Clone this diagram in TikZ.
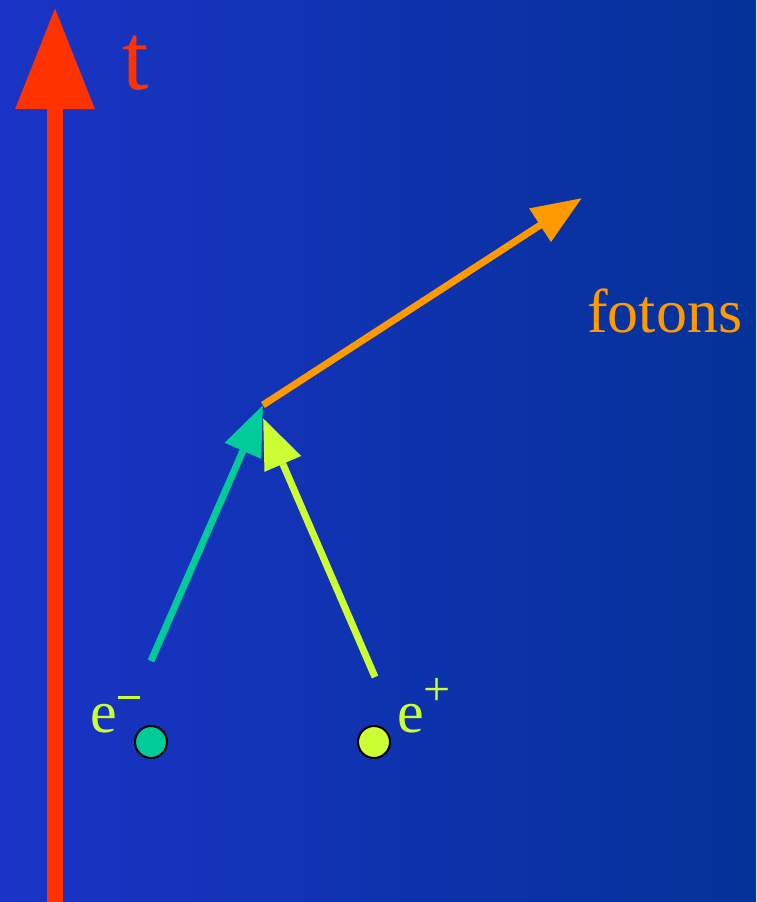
\documentclass[tikz,border=0pt]{standalone}
\usepackage{fontspec}
\setmainfont{Liberation Serif}
\usetikzlibrary{arrows.meta}
\definecolor{bgleft}{RGB}{26,51,198}
\definecolor{bgright}{RGB}{4,50,152}
\definecolor{axisred}{RGB}{255,51,0}
\definecolor{eminus}{RGB}{0,204,153}
\definecolor{eplus}{RGB}{204,255,51}
\definecolor{photon}{RGB}{255,153,0}
\tikzset{
  particle/.style={circle, draw=black, line width=2pt, minimum size=32pt, inner sep=0pt},
  lbl/.style={anchor=base west, inner sep=0pt},
  arr/.style={line width=7pt, -{Triangle[length=50pt,width=38pt]}},
}
\begin{document}
\begin{tikzpicture}[x=1pt,y=-1pt]
\shade[left color=bgleft, right color=bgright] (0,0) rectangle (756,902);
\useasboundingbox (0,0) rectangle (756,902);
% time axis
\coordinate (tbot) at (55,902);
\coordinate (ttop) at (55,7);
\draw[axisred, line width=16pt, -{Triangle[length=102pt,width=75pt]}] (tbot) -- (ttop);
\node[lbl, text=axisred, font=\fontsize{95}{95}\selectfont] (t) at (122,89) {t};
% vertex
\coordinate (vertex) at (263,405);
\coordinate (photonend) at (582,198);
\coordinate (estart) at (151,661);
\coordinate (pstart) at (375,677);
\coordinate (ptip) at (263,418);
\draw[arr, photon] (vertex) -- (photonend);
\draw[arr, eminus] (estart) -- (vertex);
\draw[arr, eplus] (pstart) -- (ptip);
\node[lbl, text=photon, font=\fontsize{62}{62}\selectfont] (fotons) at (587,332) {fotons};
% particles
\node[particle, fill=eminus] (em) at (151,742) {};
\node[particle, fill=eplus] (ep) at (374,742) {};
\node[lbl, text=eplus, font=\fontsize{60}{60}\selectfont] (emlbl) at (90,732) {e\kern1pt\raisebox{33.5pt}{\rule{22pt}{3pt}}};
\node[lbl, text=eplus, font=\fontsize{60}{60}\selectfont] (eplbl) at (397,732) {e\raisebox{27pt}{\fontsize{48}{48}\selectfont +}};
\end{tikzpicture}
\end{document}
